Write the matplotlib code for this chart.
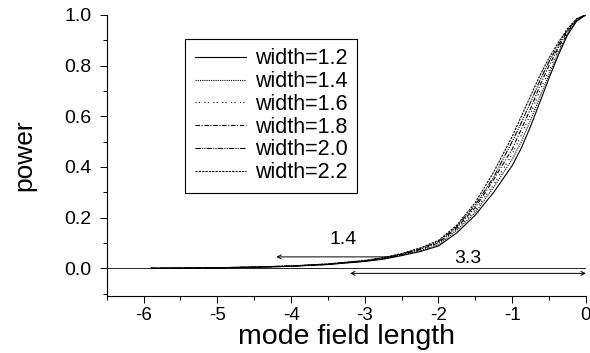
import matplotlib
matplotlib.use("Agg")
from matplotlib import pyplot as plt
from matplotlib.ticker import MultipleLocator

plt.rcParams['font.family'] = ['Liberation Sans', 'DejaVu Sans']

# mode field length positions (shared by all curves)
x = [-5.9, -5.0, -4.5, -4.0, -3.5, -3.0, -2.75, -2.5, -2.25, -2.0, -1.75,
     -1.5, -1.25, -1.0, -0.875, -0.75, -0.625, -0.5, -0.375, -0.25, -0.125, 0.0]

labels = ['width=1.2', 'width=1.4', 'width=1.6', 'width=1.8', 'width=2.0', 'width=2.2']

p12 = [0.0, 0.002, 0.004, 0.008, 0.015, 0.027, 0.036, 0.050, 0.066, 0.088, 0.14,
       0.21, 0.30, 0.405, 0.475, 0.56, 0.655, 0.75, 0.84, 0.92, 0.975, 1.0]
p14 = [0.0, 0.002, 0.004, 0.008, 0.015, 0.028, 0.037, 0.052, 0.069, 0.092, 0.15,
       0.22, 0.32, 0.43, 0.50, 0.585, 0.675, 0.765, 0.85, 0.925, 0.977, 1.0]
p16 = [0.0, 0.002, 0.004, 0.008, 0.016, 0.029, 0.038, 0.053, 0.072, 0.098, 0.155,
       0.23, 0.33, 0.45, 0.525, 0.61, 0.70, 0.78, 0.86, 0.93, 0.979, 1.0]
p18 = [0.0, 0.002, 0.005, 0.009, 0.016, 0.029, 0.040, 0.055, 0.074, 0.100, 0.16,
       0.24, 0.35, 0.47, 0.55, 0.63, 0.72, 0.80, 0.87, 0.935, 0.981, 1.0]
p20 = [0.0, 0.002, 0.005, 0.009, 0.017, 0.030, 0.041, 0.056, 0.077, 0.105, 0.165,
       0.25, 0.36, 0.50, 0.575, 0.655, 0.74, 0.815, 0.88, 0.94, 0.983, 1.0]
p22 = [0.0, 0.002, 0.005, 0.009, 0.017, 0.031, 0.042, 0.058, 0.080, 0.110, 0.17,
       0.26, 0.38, 0.52, 0.60, 0.68, 0.76, 0.83, 0.89, 0.945, 0.985, 1.0]
powers = [p12, p14, p16, p18, p20, p22]

styles = ['-', (0, (1, 1)), (0, (1, 2, 1, 4)), (0, (4, 1.5, 1, 1.5)),
          (0, (5, 1, 1, 1, 1, 1)), (0, (2, 1))]

# arrows
arrow1 = {'text': '1.4', 'x0': -2.65, 'x1': -4.2, 'y': 0.045, 'tx': -3.3, 'ty': 0.115}
arrow2 = {'text': '3.3', 'x0': -3.2, 'x1': 0.0, 'y': -0.02, 'tx': -1.6, 'ty': 0.04}

fig = plt.figure(figsize=(5.9, 3.53), dpi=100)
ax = fig.add_axes([0.181, 0.161, 0.812, 0.797])

for p, ls, lab in zip(powers, styles, labels):
    ax.plot(x, p, color='black', linestyle=ls, linewidth=0.8, label=lab)

ax.axhline(0, color='black', linewidth=0.6)

ax.annotate('', xy=(arrow1['x1'], arrow1['y']), xytext=(arrow1['x0'], arrow1['y']),
            arrowprops=dict(arrowstyle='->', color='black', lw=0.7,
                            shrinkA=0, shrinkB=0, mutation_scale=7))
ax.text(arrow1['tx'], arrow1['ty'], arrow1['text'], fontsize=14, ha='center', va='center')
ax.annotate('', xy=(arrow2['x1'], arrow2['y']), xytext=(arrow2['x0'], arrow2['y']),
            arrowprops=dict(arrowstyle='<->', color='black', lw=0.7,
                            shrinkA=0, shrinkB=0, mutation_scale=7))
ax.text(arrow2['tx'], arrow2['ty'], arrow2['text'], fontsize=14, ha='center', va='center')

ax.set_xlim(-6.5, 0)
ax.set_ylim(-0.11, 1.0)
ax.xaxis.set_minor_locator(MultipleLocator(0.5))
ax.yaxis.set_minor_locator(MultipleLocator(0.1))
ax.set_yticks([0, 0.2, 0.4, 0.6, 0.8, 1.0])
ax.set_yticklabels(['0.0', '0.2', '0.4', '0.6', '0.8', '1.0'])
ax.set_xticks([-6, -5, -4, -3, -2, -1, 0])
ax.set_xticklabels(['-6', '-5', '-4', '-3', '-2', '-1', '0'])
ax.tick_params(which='major', direction='out', length=5, width=0.7)
ax.tick_params(axis='y', which='major', pad=6, labelsize=14)
ax.tick_params(axis='x', which='major', pad=3, labelsize=13.5)
ax.tick_params(which='minor', direction='out', length=3, width=0.7)

ax.spines['top'].set_visible(False)
ax.spines['right'].set_visible(False)
ax.spines['left'].set_linewidth(0.8)
ax.spines['bottom'].set_linewidth(0.8)

ax.set_xlabel('mode field length', fontsize=20.5, labelpad=0)
ax.set_ylabel('power', fontsize=19, labelpad=20)

leg = ax.legend(loc='upper left', bbox_to_anchor=(0.163, 0.915), fontsize=15.5,
                frameon=True, fancybox=False, edgecolor='black', framealpha=1,
                handlelength=2.4, handletextpad=0.4, labelspacing=0.08,
                borderpad=0.45, borderaxespad=0)
leg.get_frame().set_linewidth(0.8)

fig.savefig('out.png', dpi=100)
